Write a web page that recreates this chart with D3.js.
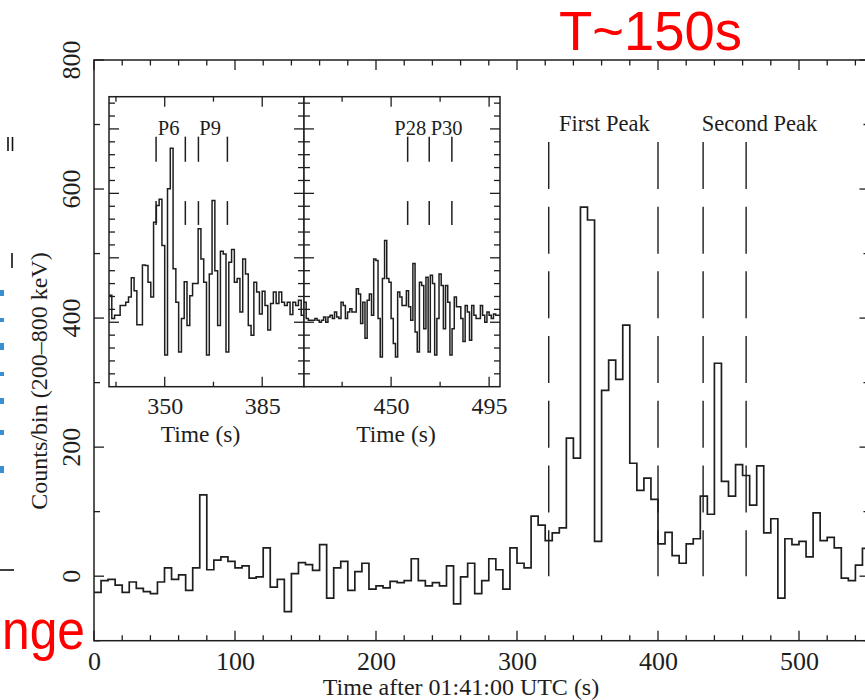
<!DOCTYPE html>
<html><head><meta charset="utf-8">
<script src="https://cdn.jsdelivr.net/npm/d3@7"></script>
<style>body{margin:0;background:#fff} svg{display:block}</style>
</head><body>
<svg id="c" width="865" height="700"></svg>
<script>
// ---------------- data ----------------
const mainStart = 0, mainBin = 5;
const mainCounts = [-25,-7,-5,-14,-25,-9,-19,-24,-27,-9,13,-5,2,-22,13,126,10,25,30,23,13,16,-3,-1,44,-17,-5,-55,4,21,18,9,49,-34,13,23,-22,7,20,-20,-15,-18,-8,-10,-7,27,-7,-15,-10,-15,16,-43,-1,20,-27,-7,27,10,-20,44,20,13,93,79,55,67,75,214,183,572,552,54,288,335,305,389,175,133,152,119,50,68,32,20,50,58,124,96,330,147,124,173,156,110,171,67,89,-34,58,49,54,30,98,55,60,44,-3,-7,17,43];
const xTicksMain = [0,100,200,300,400,500];
const yTicksMain = [0,200,400,600,800];
const peakLines = [322.5,400,432,462.5];
const peakLabels = ["First Peak","Second Peak"];
const peakLabelTimes = [362,472];

const insetLeftStart = 330, insetRightStart = 410, insetBin = 1;
const insetLeftCounts = [142,106,111,111,126,126,131,139,169,149,96,96,189,188,162,139,255,281,291,219,49,307,370,183,131,54,106,163,95,141,160,160,245,198,162,49,175,289,180,95,210,206,54,193,213,162,168,116,198,175,95,80,162,147,113,148,126,88,129,147,129,147,131,126,131,112,131,126,134,111];
const insetRightCounts = [131,106,103,103,103,106,103,100,103,108,100,108,111,106,116,108,106,131,126,106,116,121,116,116,152,144,98,131,75,134,144,111,198,196,106,46,168,227,168,162,106,67,46,147,139,126,126,149,124,103,191,85,54,162,157,90,170,54,173,160,49,106,175,157,90,157,131,49,90,139,124,124,106,70,126,116,72,126,111,106,106,126,111,100,116,111,106,113,111,111];
const insetLeftTicks = [350,385];
const insetRightTicks = [450,495];
const pulseMarksLeft = [346.9,357.4,362.1,372.5];
const pulseMarksRight = [457.6,467.5,477.9];
const pulseLabels = ["P6","P9","P28","P30"];
const pulseLabelTimes = [351.4,366.3,458.8,475.5];

// ---------------- drawing ----------------
const svg = d3.select("#c");
const serif = "'Liberation Serif','Times New Roman',serif";
const ink = "#1e1e1e";

const x = d3.scaleLinear().domain([0,550]).range([94,869.5]);
const y = d3.scaleLinear().domain([-100,800]).range([640.7,60]);

svg.append("rect").attr("width",865).attr("height",700).attr("fill","#fff");

// frame
svg.append("rect").attr("x",x(0)).attr("y",y(800))
  .attr("width",x(550)-x(0)).attr("height",y(-100)-y(800))
  .attr("fill","none").attr("stroke",ink).attr("stroke-width",1.5);

// x ticks (bottom & top, inward)
const g = svg.append("g").attr("stroke",ink).attr("stroke-width",1.3);
d3.range(0,551,20).forEach(t=>{
  const major = t%100===0, L = major?10:5.5;
  g.append("line").attr("x1",x(t)).attr("x2",x(t)).attr("y1",y(-100)).attr("y2",y(-100)-L);
  g.append("line").attr("x1",x(t)).attr("x2",x(t)).attr("y1",y(800)).attr("y2",y(800)+L);
});
d3.range(-100,801,100).forEach(v=>{
  const major = v%200===0, L = major?10:6;
  g.append("line").attr("x1",x(0)).attr("x2",x(0)+L).attr("y1",y(v)).attr("y2",y(v));
  g.append("line").attr("x1",x(550)).attr("x2",x(550)-L).attr("y1",y(v)).attr("y2",y(v));
});

// x tick labels via axis
const xa = svg.append("g").attr("transform",`translate(0,${y(-100)})`)
  .call(d3.axisBottom(x).tickValues(xTicksMain).tickSize(0).tickPadding(10.5).tickFormat(d3.format("d")));
xa.select(".domain").remove();
xa.selectAll("text").attr("font-family",serif).attr("font-size",26).attr("fill",ink);

// y tick labels rotated
yTicksMain.forEach(v=>{
  svg.append("text").attr("transform",`translate(79.5,${y(v)}) rotate(-90)`)
    .attr("text-anchor","middle").attr("font-family",serif).attr("font-size",26).attr("fill",ink).text(v);
});

// axis titles
svg.append("text").attr("x",461).attr("y",695).attr("text-anchor","middle")
  .attr("font-family",serif).attr("font-size",24).attr("fill",ink).text("Time after 01:41:00 UTC (s)");
svg.append("text").attr("transform","translate(47,381) rotate(-90)").attr("text-anchor","middle")
  .attr("font-family",serif).attr("font-size",24).attr("fill",ink).text("Counts/bin (200\u2013800 keV)");

// main histogram
const mainPts = mainCounts.map((v,i)=>({t:mainStart+i*mainBin,v}));
mainPts.push({t:mainStart+mainCounts.length*mainBin,v:mainCounts[mainCounts.length-1]});
const stepLine = (sx,sy)=>d3.line().x(d=>sx(d.t)).y(d=>sy(d.v)).curve(d3.curveStepAfter);
svg.append("path").attr("d",stepLine(x,y)(mainPts)).attr("fill","none")
  .attr("stroke",ink).attr("stroke-width",1.7);

// peak dashed lines
peakLines.forEach(t=>{
  svg.append("line").attr("x1",x(t)).attr("x2",x(t)).attr("y1",y(673)).attr("y2",y(0))
    .attr("stroke",ink).attr("stroke-width",1.4).attr("stroke-dasharray","47 17.7");
});
peakLabels.forEach((s,i)=>{
  svg.append("text").attr("x",x(peakLabelTimes[i])).attr("y",131).attr("text-anchor","middle")
    .attr("font-family",serif).attr("font-size",22.5).attr("fill",ink).text(s);
});

// ---------------- inset ----------------
const xL = d3.scaleLinear().domain([330,400]).range([109,304]);
const xR = d3.scaleLinear().domain([410,500]).range([304,500]);
const yI = d3.scaleLinear().domain([0,450]).range([386.7,96.7]);
const panels = [
  {sx:xL,counts:insetLeftCounts,start:insetLeftStart,majors:insetLeftTicks,minors:[332.5,367.5],marks:pulseMarksLeft},
  {sx:xR,counts:insetRightCounts,start:insetRightStart,majors:insetRightTicks,minors:[427.5,472.5],marks:pulseMarksRight}
];
panels.forEach(p=>{
  const [a,b] = p.sx.domain();
  svg.append("rect").attr("x",p.sx(a)).attr("y",yI(450)).attr("width",p.sx(b)-p.sx(a)).attr("height",yI(0)-yI(450))
    .attr("fill","#fff").attr("stroke",ink).attr("stroke-width",1.5);
});
panels.forEach(p=>{
  const [a,b] = p.sx.domain();
  const gi = svg.append("g").attr("stroke",ink).attr("stroke-width",1.3);
  p.majors.concat(p.minors).forEach(t=>{
    const L = p.majors.includes(t)?10:5;
    gi.append("line").attr("x1",p.sx(t)).attr("x2",p.sx(t)).attr("y1",yI(0)).attr("y2",yI(0)-L);
    gi.append("line").attr("x1",p.sx(t)).attr("x2",p.sx(t)).attr("y1",yI(450)).attr("y2",yI(450)+L);
  });
  d3.range(20,450,20).forEach(v=>{
    const L = v%100===0?10:6;
    gi.append("line").attr("x1",p.sx(a)).attr("x2",p.sx(a)+L).attr("y1",yI(v)).attr("y2",yI(v));
    gi.append("line").attr("x1",p.sx(b)).attr("x2",p.sx(b)-L).attr("y1",yI(v)).attr("y2",yI(v));
  });
  const ax = svg.append("g").attr("transform",`translate(0,${yI(0)})`)
    .call(d3.axisBottom(p.sx).tickValues(p.majors).tickSize(0).tickPadding(10).tickFormat(d3.format("d")));
  ax.select(".domain").remove();
  ax.selectAll("text").attr("font-family",serif).attr("font-size",24).attr("fill",ink);
  svg.append("text").attr("x",(p.sx(a)+p.sx(b))/2-6).attr("y",442).attr("text-anchor","middle")
    .attr("font-family",serif).attr("font-size",23.5).attr("fill",ink).text("Time (s)");
  const pts = p.counts.map((v,i)=>({t:p.start+i*insetBin,v}));
  pts.push({t:p.start+p.counts.length*insetBin,v:p.counts[p.counts.length-1]});
  svg.append("path").attr("d",stepLine(p.sx,yI)(pts)).attr("fill","none").attr("stroke",ink).attr("stroke-width",1.5);
  p.marks.forEach(t=>{
    [[349,388],[251,288]].forEach(([lo,hi])=>{
      svg.append("line").attr("x1",p.sx(t)).attr("x2",p.sx(t)).attr("y1",yI(lo)).attr("y2",yI(hi))
        .attr("stroke",ink).attr("stroke-width",1.5);
    });
  });
});
pulseLabels.forEach((s,i)=>{
  const t = pulseLabelTimes[i];
  const sx = t<405?xL:xR;
  svg.append("text").attr("x",sx(t)).attr("y",135).attr("text-anchor","middle")
    .attr("font-family",serif).attr("font-size",20.5).attr("fill",ink).text(s);
});

// ---------------- slide overlays ----------------
svg.append("text").attr("x",559).attr("y",50).attr("font-family","'Liberation Sans',Arial,sans-serif")
  .attr("font-size",56).attr("fill","#ff0000").attr("textLength",183).attr("lengthAdjust","spacingAndGlyphs").text("T~150s");
svg.append("text").attr("x",85).attr("y",649).attr("text-anchor","end").attr("font-family","'Liberation Sans',Arial,sans-serif")
  .attr("font-size",55).attr("fill","#ff0000").attr("textLength",83).attr("lengthAdjust","spacingAndGlyphs").text("nge");
const ed = svg.append("g").attr("stroke","#111").attr("stroke-width",1.6);
ed.append("line").attr("x1",8).attr("x2",8).attr("y1",137).attr("y2",151);
ed.append("line").attr("x1",12.5).attr("x2",12.5).attr("y1",137).attr("y2",151);
ed.append("line").attr("x1",12).attr("x2",12).attr("y1",253).attr("y2",268);
ed.append("line").attr("x1",0).attr("x2",14).attr("y1",570).attr("y2",570);
const bl = svg.append("g").attr("fill","#3a8fd0");
[[290,6],[318,4],[343,7],[372,4],[398,6],[430,5],[466,7]].forEach(([yy,h])=>{
  bl.append("rect").attr("x",0).attr("y",yy).attr("width",4).attr("height",h);
});
</script>
</body></html>
